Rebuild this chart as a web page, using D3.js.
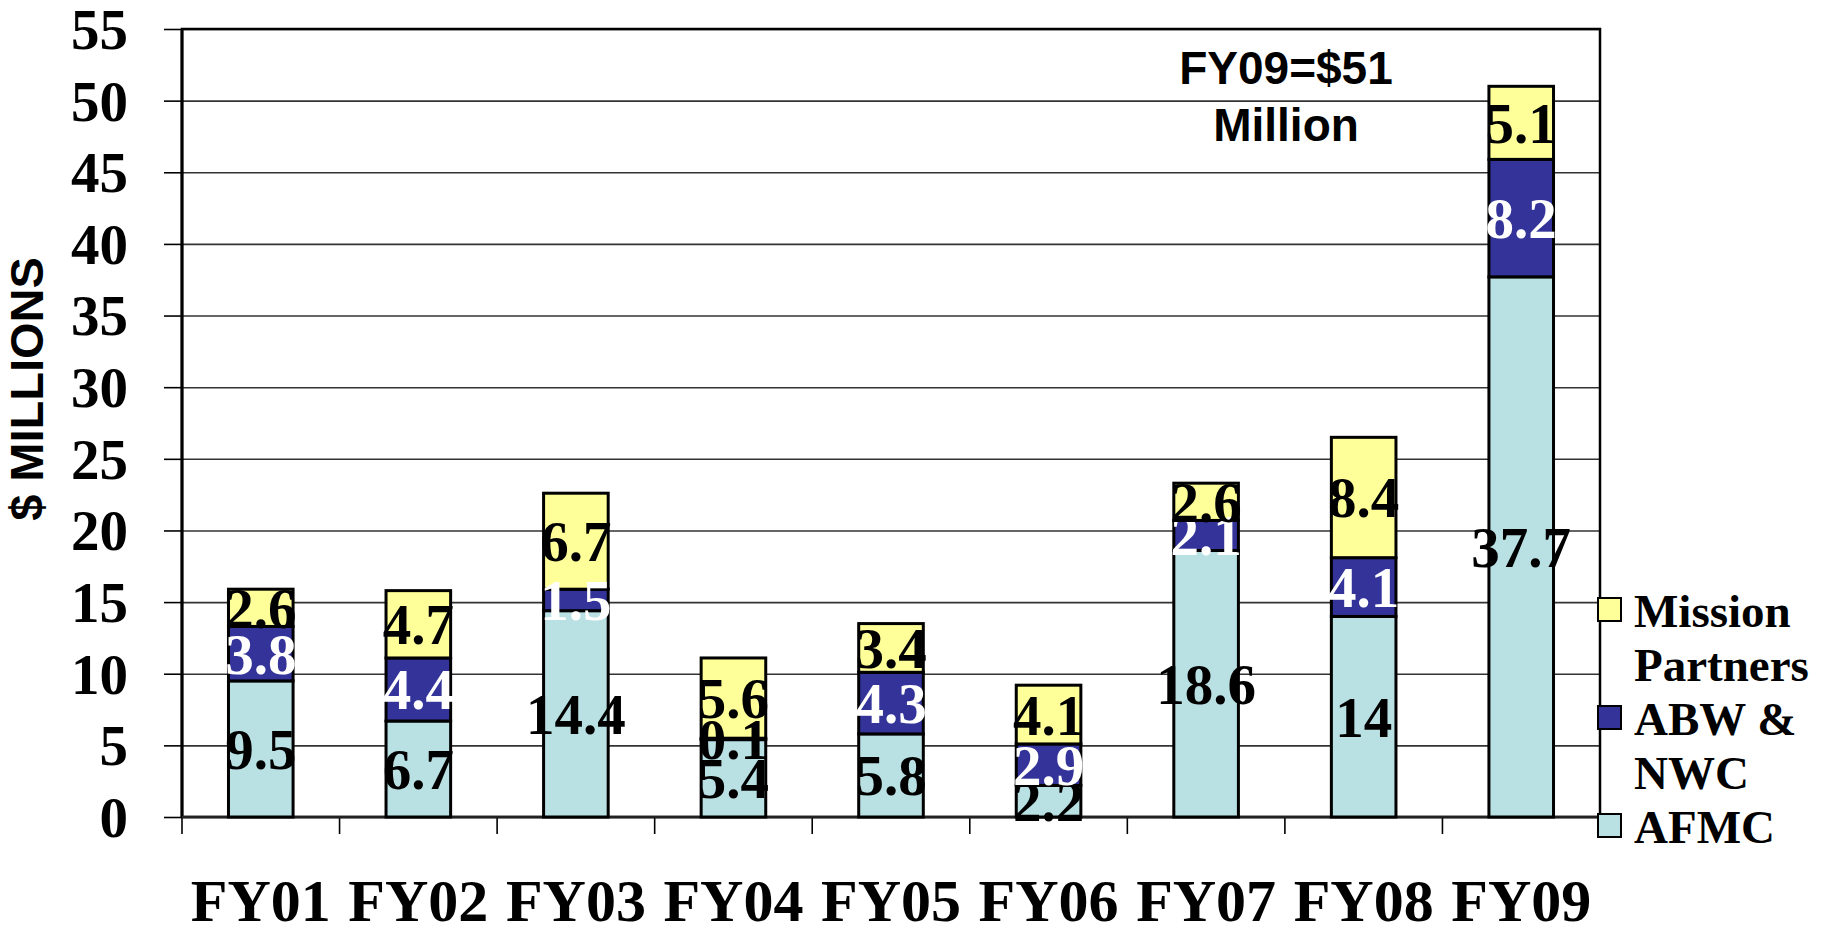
<!DOCTYPE html>
<html>
<head>
<meta charset="utf-8">
<script src="https://cdn.jsdelivr.net/npm/d3@7/dist/d3.min.js"></script>
<style>
  body { margin: 0; background: #fff; }
  .serif { font-family: "Liberation Serif", "Times New Roman", serif; font-weight: bold; }
  .sans { font-family: "Liberation Sans", Arial, sans-serif; font-weight: bold; }
  .y-axis path, .x-axis path, .grid path { display: none; }
</style>
</head>
<body>
<div id="chart"></div>
<script>

var years = ["FY01", "FY02", "FY03", "FY04", "FY05", "FY06", "FY07", "FY08", "FY09"];
var afmc = [9.5, 6.7, 14.4, 5.4, 5.8, 2.2, 18.6, 14, 37.7];
var abwNwc = [3.8, 4.4, 1.5, 0.1, 4.3, 2.9, 2.1, 4.1, 8.2];
var partners = [2.6, 4.7, 6.7, 5.6, 3.4, 4.1, 2.6, 8.4, 5.1];
var yTicks = [0, 5, 10, 15, 20, 25, 30, 35, 40, 45, 50, 55];

var seriesKeys = ["afmc", "abw", "partners"];
var seriesColors = { afmc: "#b9e0e3", abw: "#333399", partners: "#ffff99" };
var legendItems = [
  { key: "partners", lines: ["Mission", "Partners"] },
  { key: "abw", lines: ["ABW &", "NWC"] },
  { key: "afmc", lines: ["AFMC"] }
];
var noteLines = ["FY09=$51", "Million"];

StackedBar = function(_parentElement){
  var vis = this;
  vis.parentElement = _parentElement;

  // rows for d3.stack
  vis.data = years.map(function(y, i){
    return { year: y, afmc: afmc[i], abw: abwNwc[i], partners: partners[i] };
  });

  vis.initVis();
};

StackedBar.prototype.initVis = function(){
  var vis = this;

  vis.margin = { top: 29, right: 229, bottom: 111, left: 182 };
  vis.width = 1829 - vis.margin.left - vis.margin.right;
  vis.height = 928 - vis.margin.top - vis.margin.bottom;

  vis.svg = d3.select("#" + vis.parentElement).append("svg")
    .attr("width", 1829)
    .attr("height", 928)
    .append("g")
    .attr("transform", "translate(" + vis.margin.left + "," + vis.margin.top + ")");

  vis.x = d3.scaleBand().domain(years).range([0, vis.width]);
  vis.y = d3.scaleLinear().domain([0, 55]).range([vis.height, 0]);

  vis.barWidth = vis.x.bandwidth() * 0.41;

  vis.stacked = d3.stack().keys(seriesKeys)(vis.data);

  vis.updateVis();
};

StackedBar.prototype.updateVis = function(){
  var vis = this;

  // gridlines
  vis.svg.append("g")
    .attr("class", "grid")
    .call(d3.axisLeft(vis.y).tickValues(yTicks).tickSize(-vis.width).tickFormat(""))
    .selectAll("line")
    .attr("stroke", "#333")
    .attr("stroke-width", 1.6);

  // plot frame
  vis.svg.append("rect")
    .attr("width", vis.width)
    .attr("height", vis.height)
    .attr("fill", "none")
    .attr("stroke", "#000")
    .attr("stroke-width", 2.5);

  // y axis
  var yAxis = vis.svg.append("g")
    .attr("class", "y-axis")
    .call(d3.axisLeft(vis.y).tickValues(yTicks).tickSize(18).tickPadding(36));
  yAxis.selectAll("line").attr("stroke", "#000").attr("stroke-width", 1.6);
  yAxis.selectAll("text")
    .attr("class", "serif")
    .attr("font-size", 57)
    .attr("fill", "#000")
    .attr("dy", "0.34em");

  vis.svg.append("line")
    .attr("y2", vis.height)
    .attr("stroke", "#000")
    .attr("stroke-width", 3);

  // x axis: boundary ticks + labels
  var bounds = years.map(function(d){ return vis.x(d); }).concat([vis.width]);
  vis.svg.selectAll(".x-tick").data(bounds).enter().append("line")
    .attr("class", "x-tick")
    .attr("x1", function(d){ return d; })
    .attr("x2", function(d){ return d; })
    .attr("y1", vis.height)
    .attr("y2", vis.height + 17)
    .attr("stroke", "#000")
    .attr("stroke-width", 1.6);

  var xAxis = vis.svg.append("g")
    .attr("class", "x-axis")
    .attr("transform", "translate(0," + vis.height + ")")
    .call(d3.axisBottom(vis.x).tickSize(0).tickPadding(61));
  xAxis.selectAll("text")
    .attr("class", "serif")
    .attr("font-size", 60)
    .attr("fill", "#000");

  vis.svg.append("line")
    .attr("y1", vis.height)
    .attr("y2", vis.height)
    .attr("x2", vis.width)
    .attr("stroke", "#222")
    .attr("stroke-width", 2.5);

  // bars
  var layer = vis.svg.selectAll(".layer").data(vis.stacked).enter().append("g")
    .attr("class", "layer")
    .attr("fill", function(d){ return seriesColors[d.key]; });

  layer.selectAll("rect").data(function(d){ return d; }).enter().append("rect")
    .attr("x", function(d){ return vis.x(d.data.year) + (vis.x.bandwidth() - vis.barWidth) / 2; })
    .attr("y", function(d){ return vis.y(d[1]); })
    .attr("width", vis.barWidth)
    .attr("height", function(d){ return vis.y(d[0]) - vis.y(d[1]); })
    .attr("stroke", "#000")
    .attr("stroke-width", 3);

  // segment labels, drawn on top of every bar
  var segments = [];
  vis.stacked.forEach(function(s){
    s.forEach(function(d){ segments.push({ key: s.key, lo: d[0], hi: d[1], row: d.data }); });
  });

  vis.svg.append("g").selectAll("text").data(segments).enter().append("text")
    .attr("class", "serif")
    .attr("text-anchor", "middle")
    .attr("font-size", 57)
    .attr("font-weight", function(d){
      return (d.key === "afmc" && (d.row.year === "FY01" || d.row.year === "FY02" || d.row.year === "FY09")) ? "normal" : "bold";
    })
    .attr("fill", function(d){
      return (d.key === "abw" && d.hi - d.lo >= 1) ? "#fff" : "#000";
    })
    .attr("x", function(d){ return vis.x(d.row.year) + vis.x.bandwidth() / 2; })
    .attr("y", function(d){ return vis.y((d.lo + d.hi) / 2); })
    .attr("dy", "0.35em")
    .text(function(d){ return d.row[d.key]; });

  // note
  vis.svg.append("text")
    .attr("class", "sans")
    .attr("text-anchor", "middle")
    .attr("font-size", 46)
    .attr("transform", "translate(" + 1104 + ",0)")
    .selectAll("tspan").data(noteLines).enter().append("tspan")
    .attr("x", 0)
    .attr("y", function(d, i){ return 55 + i * 57; })
    .text(function(d){ return d; });

  // y axis title
  vis.svg.append("text")
    .attr("class", "sans")
    .attr("text-anchor", "middle")
    .attr("font-size", 47)
    .attr("transform", "translate(" + (-182 + 43) + "," + 360 + ")rotate(-90)")
    .text("$ MILLIONS");

  // legend
  var legend = vis.svg.selectAll(".legend").data(legendItems).enter().append("g")
    .attr("class", "legend")
    .attr("transform", function(d, i){ return "translate(" + (vis.width - 2) + "," + (569 + i * 108) + ")"; });

  legend.append("rect")
    .attr("width", 23)
    .attr("height", 23)
    .attr("fill", function(d){ return seriesColors[d.key]; })
    .attr("stroke", "#000")
    .attr("stroke-width", 2);

  legend.append("text")
    .attr("class", "serif")
    .attr("font-size", 47)
    .selectAll("tspan").data(function(d){ return d.lines; }).enter().append("tspan")
    .attr("x", 36)
    .attr("y", function(d, i){ return 29 + i * 54; })
    .text(function(d){ return d; });
};

new StackedBar("chart");

</script>
</body>
</html>
